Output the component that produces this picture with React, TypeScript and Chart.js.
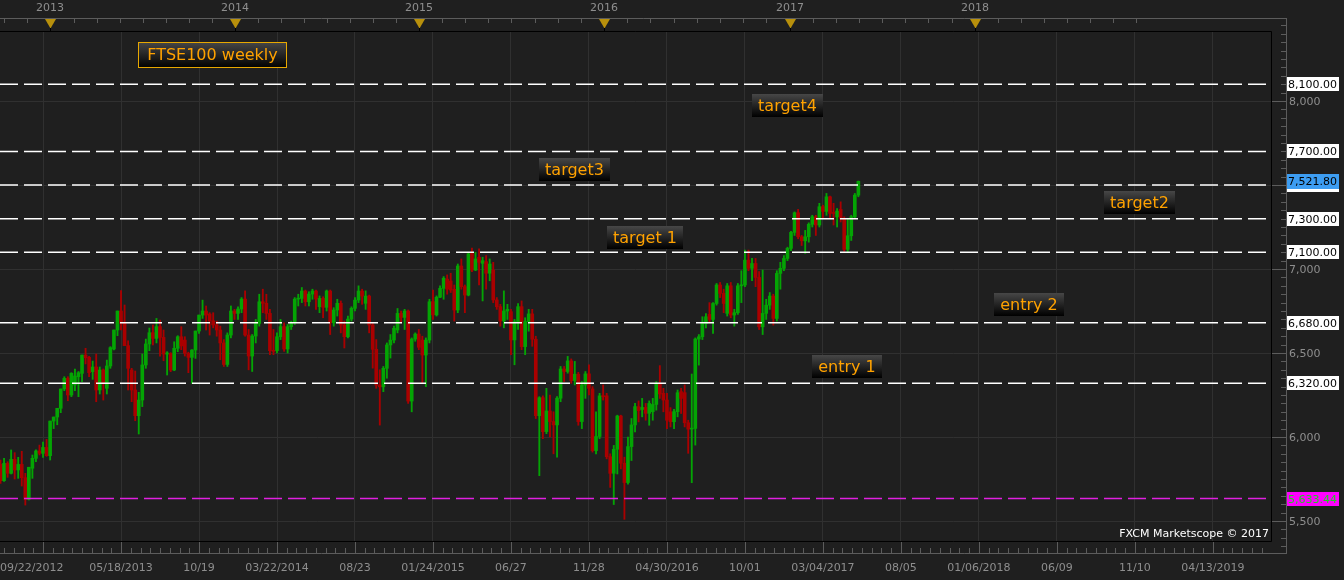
import React, { useEffect, useRef } from 'react';
import { Chart, registerables } from 'chart.js';

Chart.register(...registerables);

// ---- Weekly FTSE100 candles (week index 0 = 09/22/2012) ----
const opens = [
  5837,5740,5843,5784,5867,5804,5837,5758,5629,5814,
  5873,5917,5903,5938,5889,6095,6119,6171,6286,6349,
  6250,6310,6359,6379,6488,6474,6389,6417,6280,6399,
  6290,6423,6524,6637,6750,6677,6544,6399,6280,6127,
  6220,6429,6554,6621,6587,6657,6593,6494,6498,6399,
  6528,6597,6577,6498,6474,6518,6631,6726,6750,6732,
  6692,6667,6637,6560,6432,6607,6750,6736,6762,6821,
  6607,6482,6601,6676,6805,6796,6736,6514,6514,6597,
  6657,6524,6657,6680,6821,6825,6869,6805,6851,6869,
  6776,6825,6772,6869,6680,6756,6796,6667,6597,6702,
  6766,6815,6869,6796,6839,6667,6522,6309,6299,6409,
  6548,6577,6637,6736,6712,6750,6214,6583,6613,6577,
  6488,6577,6806,6727,6832,6885,6940,6929,6879,6756,
  7018,6895,6845,7094,6994,7070,7034,7044,6975,6994,
  6816,6776,6691,6750,6746,6578,6687,6776,6538,6687,
  6733,6582,6127,6234,6032,6155,6092,6072,6231,6405,
  6390,6453,6336,6374,6092,6310,6376,6286,5919,6003,
  6245,6245,5883,5784,5927,6125,5844,5729,5943,6072,
  6181,6164,6176,6141,6151,6194,6319,6260,6220,6150,
  6091,6151,6270,6264,6085,6047,6051,6583,6597,6676,
  6730,6700,6795,6905,6855,6736,6900,6726,6740,6900,
  6905,7053,7004,7033,6950,6656,6736,6785,6839,6706,
  6974,7004,7063,7123,7218,7335,7192,7168,7192,7266,
  7311,7262,7371,7343,7430,7335,7311,7355,7301,7117,
  7198,7311,7440,
];
const highs = [
  5863,5873,5853,5923,5907,5879,5915,5784,5820,5893,
  5923,5952,5970,5986,6095,6119,6171,6286,6359,6359,
  6383,6405,6390,6488,6528,6480,6452,6494,6417,6405,
  6458,6538,6637,6750,6871,6786,6573,6409,6393,6266,
  6494,6583,6649,6667,6706,6696,6637,6508,6502,6567,
  6603,6657,6597,6505,6520,6631,6726,6815,6780,6740,
  6740,6690,6660,6580,6620,6780,6760,6775,6830,6870,
  6640,6610,6700,6850,6880,6850,6760,6640,6620,6700,
  6680,6670,6690,6830,6850,6890,6875,6865,6880,6875,
  6840,6835,6875,6875,6770,6820,6810,6690,6720,6775,
  6830,6900,6880,6870,6845,6680,6580,6400,6420,6560,
  6610,6660,6765,6750,6760,6756,6590,6620,6640,6600,
  6590,6820,6875,6840,6900,6955,6965,6975,6905,7030,
  7060,6905,7100,7125,7100,7120,7070,7080,7060,7040,
  6830,6790,6870,6790,6760,6700,6795,6810,6710,6760,
  6760,6600,6240,6245,6290,6250,6150,6240,6420,6420,
  6480,6465,6450,6385,6330,6390,6430,6300,6150,6260,
  6310,6260,5900,5950,6130,6130,5880,6000,6110,6200,
  6215,6230,6200,6215,6230,6330,6425,6290,6260,6175,
  6165,6280,6290,6310,6100,6375,6590,6610,6716,6735,
  6800,6800,6914,6920,6880,6914,6920,6760,6914,6990,
  7113,7113,7063,7063,6985,6994,6820,6860,6850,6990,
  7040,7080,7130,7225,7340,7355,7200,7230,7275,7320,
  7320,7391,7380,7450,7435,7391,7360,7400,7311,7300,
  7320,7450,7524,
];
const lows = [
  5724,5735,5760,5780,5750,5754,5708,5595,5625,5754,
  5853,5893,5879,5885,5863,6050,6073,6145,6276,6216,
  6240,6276,6240,6329,6435,6359,6343,6210,6256,6220,
  6256,6409,6518,6603,6637,6544,6280,6210,6097,6018,
  6181,6409,6514,6548,6560,6482,6454,6369,6389,6395,
  6508,6520,6482,6383,6319,6468,6617,6706,6637,6607,
  6650,6600,6460,6420,6420,6590,6700,6700,6740,6600,
  6400,6390,6560,6660,6740,6700,6490,6490,6500,6580,
  6510,6500,6640,6670,6780,6800,6780,6780,6820,6760,
  6740,6710,6750,6610,6660,6720,6620,6530,6590,6690,
  6750,6800,6790,6760,6620,6410,6290,6071,6270,6350,
  6470,6560,6620,6680,6640,6200,6150,6570,6520,6320,
  6300,6560,6700,6720,6830,6820,6850,6860,6690,6740,
  6880,6740,6840,6985,6990,6905,6810,6880,6930,6800,
  6760,6660,6650,6700,6490,6430,6640,6520,6490,6630,
  6540,6110,5770,5990,6020,6000,5900,5880,6210,6330,
  6380,6320,6310,6070,6050,6230,6250,5910,5900,5990,
  6220,5870,5700,5598,5780,5810,5510,5720,5860,6030,
  6090,6120,6100,6070,6100,6160,6230,6150,6050,6060,
  6050,6120,6140,6060,5903,5728,5952,6428,6580,6650,
  6680,6616,6785,6830,6740,6720,6710,6660,6730,6800,
  6895,6990,6930,6895,6640,6610,6700,6760,6666,6690,
  6880,6990,7050,7110,7200,7180,7140,7093,7160,7250,
  7200,7250,7300,7320,7300,7262,7250,7280,7105,7100,
  7170,7300,7430,
];
const closes = [
  5740,5843,5784,5867,5804,5837,5758,5629,5820,5873,
  5917,5903,5938,5889,6095,6119,6171,6286,6349,6250,
  6379,6363,6383,6488,6472,6383,6417,6280,6399,6320,
  6423,6532,6637,6750,6677,6544,6409,6280,6127,6220,
  6429,6554,6621,6587,6657,6593,6494,6500,6399,6528,
  6597,6542,6498,6474,6518,6631,6726,6750,6726,6692,
  6667,6637,6560,6432,6607,6750,6736,6762,6821,6607,
  6482,6601,6676,6805,6796,6736,6514,6510,6597,6657,
  6524,6657,6680,6821,6825,6869,6805,6851,6869,6821,
  6825,6772,6869,6680,6756,6796,6667,6597,6702,6766,
  6815,6869,6839,6839,6667,6522,6309,6299,6409,6548,
  6577,6647,6736,6712,6750,6214,6583,6613,6534,6488,
  6577,6805,6727,6832,6885,6945,6880,6875,6756,7018,
  6895,6845,7090,6994,7060,7040,7050,6975,7030,6816,
  6776,6691,6750,6760,6578,6687,6776,6538,6687,6733,
  6582,6127,6234,6032,6155,6092,6072,6231,6405,6390,
  6453,6336,6374,6092,6310,6376,6290,5919,6003,6245,
  6240,5883,5784,5927,6125,5844,5729,5943,6072,6181,
  6157,6176,6141,6200,6194,6319,6256,6220,6100,6091,
  6151,6264,6230,6085,6047,6051,6583,6597,6676,6716,
  6700,6795,6905,6855,6795,6900,6726,6740,6900,6905,
  7053,7004,7033,6950,6656,6736,6785,6839,6706,6974,
  7004,7063,7123,7218,7335,7192,7168,7192,7266,7311,
  7262,7371,7343,7430,7331,7331,7345,7301,7117,7198,
  7311,7440,7522,
];

// ---- Axis labels ----
const bottomLabels = ['09/22/2012','05/18/2013','10/19','03/22/2014','08/23','01/24/2015','06/27','11/28','04/30/2016','10/01','03/04/2017','08/05','01/06/2018','06/09','11/10','04/13/2019'];
const bottomLabelWeeks = [0,34,56,78,100,122,144,166,188,210,232,254,276,298,320,342];
const gridWeeks = [12,34,56,78,100,122,144,166,188,210,232,254,276,298,320,342];
const yearLabels = ['2013','2014','2015','2016','2017','2018'];
const yearWeeks = [14.1,66.2,118.1,170.2,222.6,274.8];
const priceGrid = [5500,6000,6500,7000,7500,8000];

// ---- Horizontal levels and tags ----
const levelValues = [8100,7700,7500,7300,7100,6680,6320];
const supportLevel = 5633.44;
const lastPrice = 7521.8;
const tagTexts = ['target4','target3','target 1','target2','entry 2','entry 1'];
const tagWeeks = [222.1,161.9,181.9,321.3,290.1,238.9];
const tagPrices = [7976,7595,7187,7399,6789,6417];
const titleText = 'FTSE100 weekly';
const creditText = 'FXCM Marketscope \u00a9 2017';

const X_MIN = -0.14;
const X_MAX = 358.4;
const Y_MIN = 5381;
const Y_MAX = 8411;

const GREEN = '#04a404';
const RED = '#aa0000';
const BG = '#1f1f1f';
const FONT = '"DejaVu Sans", Verdana, sans-serif';

const fmt2 = (v: number) => v.toLocaleString('en-US', { minimumFractionDigits: 2, maximumFractionDigits: 2 });
const fmt0 = (v: number) => v.toLocaleString('en-US', { maximumFractionDigits: 0 });

function drawTag(ctx: CanvasRenderingContext2D, text: string, cx: number, cy: number) {
  ctx.font = `16px ${FONT}`;
  const w = Math.round(ctx.measureText(text).width + 12);
  const h = 23;
  const x0 = Math.round(cx - w / 2);
  const y0 = Math.round(cy - h / 2);
  const g = ctx.createLinearGradient(0, y0, 0, y0 + h);
  g.addColorStop(0, '#474747');
  g.addColorStop(1, '#000000');
  ctx.fillStyle = g;
  ctx.fillRect(x0, y0, w, h);
  ctx.fillStyle = '#ffa200';
  ctx.textAlign = 'center';
  ctx.textBaseline = 'middle';
  ctx.fillText(text, x0 + w / 2, y0 + h / 2 + 1);
}

const chromePlugin = {
  id: 'chrome',
  beforeDraw(chart: any) {
    const { ctx, width, height } = chart;
    ctx.save();
    ctx.fillStyle = BG;
    ctx.fillRect(0, 0, width, height);
    ctx.restore();
  },
  afterDraw(chart: any) {
    const { ctx, chartArea: ca } = chart;
    const xs = chart.scales.x;
    const ys = chart.scales.y;
    const axisRight = 1286.5;
    const axisGray = '#5c5c5c';
    const textGray = '#8e8e8e';
    ctx.save();
    ctx.lineWidth = 1;

    // plot border
    ctx.strokeStyle = '#000';
    ctx.beginPath();
    ctx.moveTo(0, ca.top - 0.5);
    ctx.lineTo(ca.right + 0.5, ca.top - 0.5);
    ctx.lineTo(ca.right + 0.5, ca.bottom + 0.5);
    ctx.lineTo(0, ca.bottom + 0.5);
    ctx.stroke();

    // ---- top (year) axis ----
    ctx.strokeStyle = axisGray;
    ctx.beginPath();
    ctx.moveTo(0, 18.5);
    ctx.lineTo(axisRight, 18.5);
    const ext = [yearWeeks[0] - 52.1, ...yearWeeks, yearWeeks[yearWeeks.length - 1] + 52.1];
    for (let j = 0; j < ext.length - 1; j++) {
      for (let k = 0; k < 8; k++) {
        const wv = ext[j] + (k * (ext[j + 1] - ext[j])) / 8;
        const px = Math.round(xs.getPixelForValue(wv)) + 0.5;
        if (px < 0 || px > ca.right) continue;
        ctx.moveTo(px, 18.5);
        ctx.lineTo(px, 23);
      }
    }
    ctx.stroke();
    ctx.font = `11px ${FONT}`;
    ctx.textAlign = 'center';
    ctx.textBaseline = 'middle';
    yearWeeks.forEach((wv, i) => {
      const px = Math.round(xs.getPixelForValue(wv));
      ctx.fillStyle = '#b8900c';
      ctx.beginPath();
      ctx.moveTo(px - 5, 19);
      ctx.lineTo(px + 6, 19);
      ctx.lineTo(px + 0.5, 28.5);
      ctx.closePath();
      ctx.fill();
      ctx.strokeStyle = '#000';
      ctx.beginPath();
      ctx.moveTo(px + 0.5, 28);
      ctx.lineTo(px + 0.5, 32);
      ctx.stroke();
      ctx.fillStyle = textGray;
      ctx.fillText(yearLabels[i], px, 8.5);
    });

    // ---- bottom (date) axis ----
    ctx.strokeStyle = axisGray;
    ctx.beginPath();
    ctx.moveTo(0, 553.5);
    ctx.lineTo(axisRight, 553.5);
    for (let wv = gridWeeks[0] - 22; wv <= X_MAX; wv += 2.75) {
      const px = Math.round(xs.getPixelForValue(wv)) + 0.5;
      if (px < 0 || px > ca.right) continue;
      const major = gridWeeks.some((g) => Math.abs(g - wv) < 0.01);
      ctx.moveTo(px, major ? ca.bottom + 1 : 548);
      ctx.lineTo(px, 553.5);
    }
    ctx.stroke();
    ctx.fillStyle = textGray;
    ctx.font = `11px ${FONT}`;
    ctx.textBaseline = 'middle';
    bottomLabels.forEach((lab, i) => {
      const px = xs.getPixelForValue(bottomLabelWeeks[i]);
      if (i === 0) {
        ctx.textAlign = 'left';
        ctx.fillText(lab, 0, 568);
      } else {
        ctx.textAlign = 'center';
        ctx.fillText(lab, px, 568);
      }
    });

    // ---- right (price) axis ----
    ctx.strokeStyle = axisGray;
    ctx.beginPath();
    ctx.moveTo(axisRight, 18);
    ctx.lineTo(axisRight, 554);
    for (let v = 5250; v <= 8500; v += 50) {
      const py = Math.round(ys.getPixelForValue(v)) + 0.5;
      if (py < 18 || py > 554) continue;
      const major = v % 500 === 0;
      ctx.moveTo(major ? ca.right + 1 : 1281, py);
      ctx.lineTo(axisRight, py);
    }
    ctx.stroke();
    ctx.fillStyle = textGray;
    ctx.textAlign = 'left';
    ctx.textBaseline = 'middle';
    priceGrid.forEach((v) => {
      const py = Math.round(ys.getPixelForValue(v));
      ctx.fillText(fmt0(v), 1289, py + 1);
    });

    const box = (v: number, bg: string, fg: string, withText: boolean, h: number) => {
      const py = Math.round(ys.getPixelForValue(v));
      ctx.fillStyle = bg;
      ctx.fillRect(1287, py - 7, 52, h);
      if (!withText) return;
      ctx.fillStyle = fg;
      ctx.textAlign = 'left';
      ctx.textBaseline = 'middle';
      ctx.fillText(fmt2(v), 1288, py + 1);
    };
    levelValues.forEach((v) => box(v, '#ffffff', '#000000', v !== 7500, 14));
    box(lastPrice, '#3d9df2', '#000000', true, 15);
    box(supportLevel, '#ff00ff', '#22cc22', true, 14);

    // ---- tags ----
    tagTexts.forEach((t, i) => {
      drawTag(ctx, t, xs.getPixelForValue(tagWeeks[i]), ys.getPixelForValue(tagPrices[i]));
    });

    // ---- title box ----
    {
      const x0 = 138, y0 = 42, w = 149, h = 26;
      const g = ctx.createLinearGradient(0, y0, 0, y0 + h);
      g.addColorStop(0, '#474747');
      g.addColorStop(1, '#000000');
      ctx.fillStyle = g;
      ctx.fillRect(x0, y0, w, h);
      ctx.strokeStyle = '#e8a800';
      ctx.strokeRect(x0 + 0.5, y0 + 0.5, w - 1, h - 1);
      ctx.font = `16px ${FONT}`;
      ctx.fillStyle = '#ffa200';
      ctx.textAlign = 'center';
      ctx.textBaseline = 'middle';
      ctx.fillText(titleText, x0 + w / 2, y0 + h / 2 + 1);
    }

    // ---- credit ----
    ctx.font = `11px ${FONT}`;
    ctx.fillStyle = '#ffffff';
    ctx.textAlign = 'right';
    ctx.textBaseline = 'alphabetic';
    ctx.fillText(creditText, ca.right - 2, ca.bottom - 4);

    ctx.restore();
  },
};

export default function App() {
  const ref = useRef<HTMLCanvasElement>(null);
  useEffect(() => {
    document.body.style.margin = '0';
    const canvas = ref.current;
    if (!canvas) return;
    const idx = closes.map((_, i) => i);
    const colors = idx.map((i) => (closes[i] >= opens[i] ? GREEN : RED));
    const lineDs = (v: number, color: string) => ({
      type: 'line' as const,
      data: [{ x: X_MIN, y: v }, { x: X_MAX, y: v }],
      borderColor: color,
      borderWidth: 1.5,
      borderDash: [18, 6],
      pointRadius: 0,
      fill: false,
      order: 0,
    });
    const chart = new Chart(canvas, {
      type: 'bar',
      data: {
        datasets: [
          ...levelValues.map((v) => lineDs(v, '#ffffff')),
          lineDs(supportLevel, '#e020e0'),
          {
            type: 'bar',
            data: idx.map((i) => ({ x: i, y: [opens[i], closes[i]] })),
            backgroundColor: colors,
            barThickness: 3,
            minBarLength: 1,
            grouped: false,
            borderWidth: 0,
            order: 1,
          } as any,
          {
            type: 'bar',
            data: idx.map((i) => ({ x: i, y: [lows[i], highs[i]] })),
            backgroundColor: colors,
            barThickness: 1.2,
            grouped: false,
            borderWidth: 0,
            order: 2,
          } as any,
        ],
      },
      options: {
        responsive: false,
        animation: false,
        devicePixelRatio: 1,
        layout: { padding: { left: 0, top: 32, right: 73, bottom: 39 } },
        plugins: { legend: { display: false }, tooltip: { enabled: false } },
        events: [],
        scales: {
          x: {
            type: 'linear',
            min: X_MIN,
            max: X_MAX,
            offset: false,
            afterBuildTicks: (s: any) => { s.ticks = gridWeeks.map((v) => ({ value: v })); },
            grid: { color: '#303030', drawTicks: false, offset: false },
            border: { display: false },
            ticks: { display: false },
          },
          y: {
            type: 'linear',
            position: 'right',
            min: Y_MIN,
            max: Y_MAX,
            afterBuildTicks: (s: any) => { s.ticks = priceGrid.map((v) => ({ value: v })); },
            grid: { color: '#303030', drawTicks: false },
            border: { display: false },
            ticks: { display: false },
          },
        },
      } as any,
      plugins: [chromePlugin],
    });
    return () => chart.destroy();
  }, []);
  return (
    <div style={{ position: 'absolute', left: 0, top: 0, width: 1344, height: 580, background: BG }}>
      <canvas ref={ref} width={1344} height={580} style={{ display: 'block', width: 1344, height: 580 }} />
    </div>
  );
}
